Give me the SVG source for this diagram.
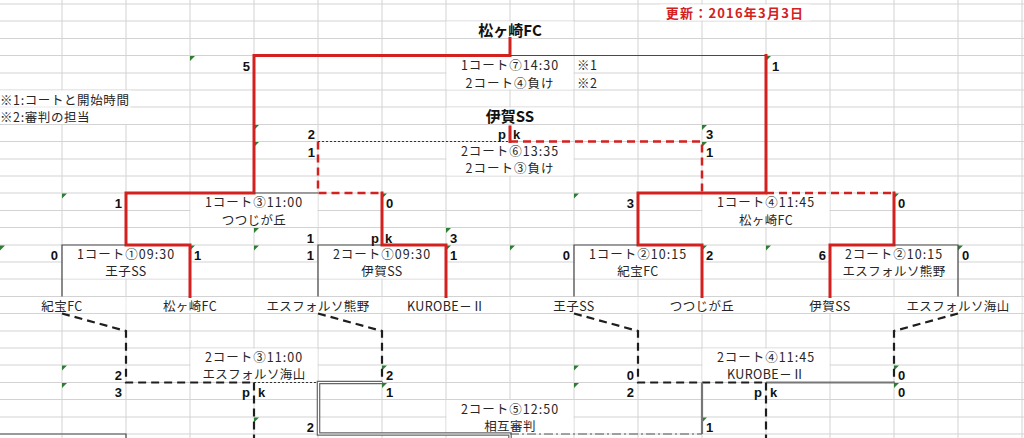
<svg xmlns="http://www.w3.org/2000/svg" xmlns:xlink="http://www.w3.org/1999/xlink" width="1024" height="438" viewBox="0 0 1024 438">
<style>
.g{stroke:#d3d3d3;stroke-width:1;fill:none}
.r{stroke:#d3211f;stroke-width:3;fill:none;stroke-linecap:square}
.rd{stroke:#d3211f;stroke-width:2.5;stroke-dasharray:8 5;fill:none}
.k{stroke:#4a4a4a;stroke-width:1.2;fill:none}
.kd{stroke:#1e1e1e;stroke-width:2.2;stroke-dasharray:8 5;fill:none}
.dot{stroke:#333;stroke-width:1;stroke-dasharray:2 2;fill:none}
.gr{stroke:#777;stroke-width:2.2;fill:none}
.dbo{stroke:#666;stroke-width:3.6;fill:none}
.dbi{stroke:#fff;stroke-width:1.2;fill:none}
.dd{stroke:#555;stroke-width:1.2;stroke-dasharray:9 3 2 3;fill:none}
.t{font-family:"Noto Sans CJK JP","Noto Sans",sans-serif;font-size:12.5px;fill:#262626;letter-spacing:1px;text-anchor:middle}
.n{font-family:"Noto Sans CJK JP","Noto Sans",sans-serif;font-size:12.5px;fill:#262626;letter-spacing:0.4px;text-anchor:middle}
.l{font-family:"Noto Sans CJK JP","Noto Sans",sans-serif;font-size:12.5px;fill:#262626;letter-spacing:0.6px}
.h{font-family:"Noto Sans CJK JP","Noto Sans",sans-serif;font-size:15px;font-weight:bold;fill:#111;text-anchor:middle}
.date{font-family:"Noto Sans CJK JP","Noto Sans",sans-serif;font-size:13px;font-weight:bold;fill:#d3211f;letter-spacing:1.2px;text-anchor:middle}
.s{font-family:"Liberation Sans","DejaVu Sans",sans-serif;font-size:13px;font-weight:bold;fill:#111}
.e{text-anchor:end}
.m{fill:#2e7d32}
</style>
<defs>
<path id="mk" d="M0,0h5l-5,5z"/>
</defs>
<rect x="0" y="0" width="1024" height="438" fill="#fff"/>
<g id="grid">
<path class="g" d="M62,0V438M126,0V438M190,0V438M254,0V438M318,0V438M382,0V438M446,0V438M510,0V438M574,0V438M638,0V438M702,0V438M766,0V438M830,0V438M894,0V438M958,0V438M1022,0V438"/>
<path class="g" d="M0,4H1024M0,21H1024M0,38.5H1024M0,55.5H1024M0,73H1024M0,90H1024M0,107H1024M0,124.5H1024M0,141.5H1024M0,159H1024M0,176H1024M0,193H1024M0,210.5H1024M0,227.5H1024M0,245H1024M0,262H1024M0,279H1024M0,296.5H1024M0,313.5H1024M0,331H1024M0,348H1024M0,365H1024M0,382.5H1024M0,399.5H1024M0,417H1024M0,434H1024"/>
</g>
<g id="merged-cells" fill="#fff">
<rect x="446.5" y="21.5" width="127" height="16.5"/>
<rect x="446.5" y="56" width="127" height="33.5"/>
<rect x="446.5" y="107.5" width="127" height="16.5"/>
<rect x="446.5" y="142" width="127" height="33.5"/>
<rect x="190.5" y="193.5" width="127" height="33.5"/>
<rect x="702.5" y="193.5" width="127" height="33.5"/>
<rect x="62.5" y="245.5" width="127" height="33"/>
<rect x="318.5" y="245.5" width="127" height="33"/>
<rect x="574.5" y="245.5" width="127" height="33"/>
<rect x="830.5" y="245.5" width="127" height="33"/>
<rect x="0" y="297" width="125.5" height="16"/>
<rect x="126.5" y="297" width="127" height="16"/>
<rect x="254.5" y="297" width="127" height="16"/>
<rect x="382.5" y="297" width="127" height="16"/>
<rect x="510.5" y="297" width="127" height="16"/>
<rect x="638.5" y="297" width="127" height="16"/>
<rect x="766.5" y="297" width="127" height="16"/>
<rect x="894.5" y="297" width="127" height="16"/>
<rect x="190.5" y="348.5" width="127" height="33.5"/>
<rect x="702.5" y="348.5" width="127" height="33.5"/>
<rect x="446.5" y="400" width="127" height="33.5"/>
<rect x="0" y="90.5" width="131" height="16"/>
<rect x="0" y="107.5" width="131" height="16.5"/>
<rect x="660" y="4.5" width="150" height="16"/>
</g>
<g id="markers" class="m">
<use xlink:href="#mk" x="190" y="56"/>
<use xlink:href="#mk" x="766" y="56"/>
<use xlink:href="#mk" x="254" y="125"/>
<use xlink:href="#mk" x="254" y="142"/>
<use xlink:href="#mk" x="702" y="125"/>
<use xlink:href="#mk" x="702" y="142"/>
<use xlink:href="#mk" x="62" y="193.5"/>
<use xlink:href="#mk" x="382" y="193.5"/>
<use xlink:href="#mk" x="574" y="193.5"/>
<use xlink:href="#mk" x="894" y="193.5"/>
<use xlink:href="#mk" x="0" y="245.5"/>
<use xlink:href="#mk" x="190" y="245.5"/>
<use xlink:href="#mk" x="254" y="228"/>
<use xlink:href="#mk" x="254" y="245.5"/>
<use xlink:href="#mk" x="446" y="228"/>
<use xlink:href="#mk" x="446" y="245.5"/>
<use xlink:href="#mk" x="510" y="245.5"/>
<use xlink:href="#mk" x="702" y="245.5"/>
<use xlink:href="#mk" x="766" y="245.5"/>
<use xlink:href="#mk" x="958" y="245.5"/>
<use xlink:href="#mk" x="62" y="365.5"/>
<use xlink:href="#mk" x="62" y="383"/>
<use xlink:href="#mk" x="382" y="365.5"/>
<use xlink:href="#mk" x="382" y="383"/>
<use xlink:href="#mk" x="574" y="365.5"/>
<use xlink:href="#mk" x="574" y="383"/>
<use xlink:href="#mk" x="894" y="365.5"/>
<use xlink:href="#mk" x="894" y="383"/>
<use xlink:href="#mk" x="254" y="417.5"/>
<use xlink:href="#mk" x="702" y="417.5"/>
</g>
<g id="connectors">
<path class="r" d="M510,38.5V55.5H254V193H126V245H190V296.5"/>
<path class="k" d="M510,55.5H766"/>
<path class="r" d="M766,55.5V193H638V245H702V296.5"/>
<path class="k" d="M254,193H318"/>
<path class="rd" d="M318,141.5V193H382"/>
<path class="r" d="M382,193V245H446V296.5"/>
<path class="rd" d="M766,193H894"/>
<path class="r" d="M894,193V245H830V296.5"/>
<path class="r" d="M510,127V141.5"/>
<path class="dot" d="M318,141.5H510"/>
<path class="rd" d="M510,141.5H702V193"/>
<path class="k" d="M126,245H62V296.5M382,245H318V296.5M638,245H574V296.5M894,245H958V296.5"/>
<path class="kd" d="M62,313.5L126,331V382.5H254"/>
<path class="kd" d="M318,313.5L382,331V382.5"/>
<path class="dot" d="M254,382.5H318"/>
<path class="kd" d="M254,382.5V438"/>
<path class="dbo" d="M382,382.5H318.5V434H510V438"/>
<path class="dbi" d="M382,382.5H318.5V434H510V438"/>
<path class="kd" d="M574,313.5L638,331V382.5H766"/>
<path class="kd" d="M958,313.5L894,331V382.5"/>
<path class="gr" d="M766,382.5H894"/>
<path class="gr" d="M702,382.5V434"/>
<path class="dd" d="M510,434H702"/>
<path class="kd" d="M766,382.5V438"/>
<path class="k" d="M0,434H126V438"/>
</g>
<g id="header">
<text class="date" x="735" y="18">更新：2016年3月3日</text>
<text class="l" x="0" y="105">※1:コートと開始時間</text>
<text class="l" x="0" y="122">※2:審判の担当</text>
</g>
<g id="final">
<text class="h" x="510" y="35.5">松ヶ崎FC</text>
<text class="t" x="510" y="70">1コート⑦14:30</text>
<text class="l" x="577" y="70">※1</text>
<text class="t" x="510" y="87.5">2コート④負け</text>
<text class="l" x="577" y="87.5">※2</text>
<text class="s e" x="250" y="70.5">5</text>
<text class="s" x="772" y="70.5">1</text>
</g>
<g id="third-place">
<text class="h" x="510" y="121.5">伊賀SS</text>
<text class="s e" x="506" y="138.5">p</text>
<text class="s" x="513" y="138.5">k</text>
<text class="s e" x="315" y="139">2</text>
<text class="s e" x="315" y="156.5">1</text>
<text class="s" x="706" y="139">3</text>
<text class="s" x="706" y="156.5">1</text>
<text class="t" x="510" y="156">2コート⑥13:35</text>
<text class="t" x="510" y="173">2コート③負け</text>
</g>
<g id="semi-1">
<text class="s e" x="122" y="207.5">1</text>
<text class="t" x="254" y="207">1コート③11:00</text>
<text class="s" x="386" y="207.5">0</text>
<text class="n" x="254" y="224.5">つつじが丘</text>
</g>
<g id="semi-2">
<text class="s e" x="634" y="207.5">3</text>
<text class="t" x="766" y="207">1コート④11:45</text>
<text class="s" x="898" y="207.5">0</text>
<text class="n" x="766" y="224.5">松ヶ崎FC</text>
</g>
<g id="r1-1">
<text class="s e" x="58" y="259.5">0</text>
<text class="t" x="126" y="259">1コート①09:30</text>
<text class="s" x="194" y="259.5">1</text>
<text class="n" x="126" y="276">王子SS</text>
</g>
<g id="r1-2">
<text class="s e" x="314" y="242.5">1</text>
<text class="s e" x="379" y="242.5">p</text>
<text class="s" x="385" y="242.5">k</text>
<text class="s" x="450" y="242.5">3</text>
<text class="s e" x="314" y="259.5">1</text>
<text class="t" x="382" y="259">2コート①09:30</text>
<text class="s" x="450" y="259.5">1</text>
<text class="n" x="382" y="276">伊賀SS</text>
</g>
<g id="r1-3">
<text class="s e" x="570" y="259.5">0</text>
<text class="t" x="638" y="259">1コート②10:15</text>
<text class="s" x="706" y="259.5">2</text>
<text class="n" x="638" y="276">紀宝FC</text>
</g>
<g id="r1-4">
<text class="s e" x="826" y="259.5">6</text>
<text class="t" x="894" y="259">2コート②10:15</text>
<text class="s" x="962" y="259.5">0</text>
<text class="n" x="894" y="276">エスフォルソ熊野</text>
</g>
<g id="teams">
<text class="n" x="62" y="310.5">紀宝FC</text>
<text class="n" x="190" y="310.5">松ヶ崎FC</text>
<text class="n" x="318" y="310.5">エスフォルソ熊野</text>
<text class="n" x="446" y="310.5">KUROBE－Ⅱ</text>
<text class="n" x="574" y="310.5">王子SS</text>
<text class="n" x="702" y="310.5">つつじが丘</text>
<text class="n" x="830" y="310.5">伊賀SS</text>
<text class="n" x="958" y="310.5">エスフォルソ海山</text>
</g>
<g id="cons-1">
<text class="t" x="254" y="362">2コート③11:00</text>
<text class="n" x="254" y="379">エスフォルソ海山</text>
<text class="s e" x="122" y="379.5">2</text>
<text class="s" x="386" y="379.5">2</text>
<text class="s e" x="122" y="397">3</text>
<text class="s e" x="250" y="397">p</text>
<text class="s" x="258" y="397">k</text>
<text class="s" x="386" y="397">1</text>
</g>
<g id="cons-2">
<text class="t" x="766" y="362">2コート④11:45</text>
<text class="n" x="766" y="379">KUROBE－Ⅱ</text>
<text class="s e" x="634" y="379.5">0</text>
<text class="s" x="898" y="379.5">0</text>
<text class="s e" x="634" y="397">2</text>
<text class="s e" x="762" y="397">p</text>
<text class="s" x="770" y="397">k</text>
<text class="s" x="898" y="397">0</text>
</g>
<g id="cons-3">
<text class="t" x="510" y="414">2コート⑤12:50</text>
<text class="n" x="510" y="431">相互審判</text>
<text class="s e" x="314" y="431.5">2</text>
<text class="s" x="706" y="431.5">1</text>
</g>
</svg>
